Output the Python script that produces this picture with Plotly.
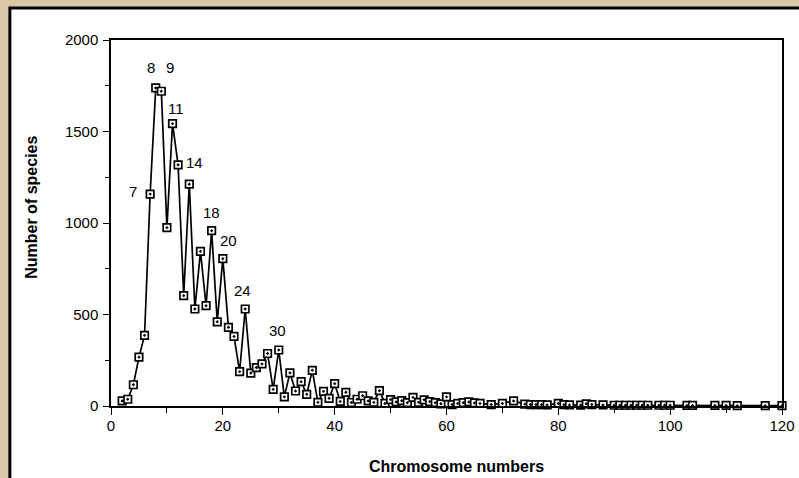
import plotly.graph_objects as go

chromosome_numbers = [2, 3, 4, 5, 6, 7, 8, 9, 10, 11, 12, 13, 14, 15, 16, 17, 18, 19, 20,
                      21, 22, 23, 24, 25, 26, 27, 28, 29, 30, 31, 32, 33, 34, 35, 36, 37, 38,
                      39, 40, 41, 42, 43, 44, 45, 46, 47, 48, 49, 50, 51, 52, 53, 54, 55, 56,
                      57, 58, 59, 60, 61, 62, 63, 64, 65, 66, 68, 70, 72, 74, 75, 76, 77, 78,
                      80, 81, 82, 84, 85, 86, 88, 90, 91, 92, 93, 94, 95, 96, 98, 99, 100,
                      103, 104, 108, 110, 112, 117, 120]
species_counts = [28, 37, 116, 267, 386, 1158, 1738, 1720, 975, 1543, 1318, 603, 1212, 530,
                  845, 548, 958, 460, 805, 430, 380, 188, 530, 180, 210, 230, 287, 91, 306,
                  50, 181, 82, 133, 64, 195, 20, 80, 42, 122, 25, 75, 19, 37, 56, 28, 20, 84,
                  14, 35, 22, 29, 18, 47, 20, 34, 24, 18, 12, 50, 8, 14, 18, 22, 17, 14, 8,
                  14, 28, 10, 8, 8, 7, 6, 14, 7, 6, 5, 12, 8, 6, 4, 4, 4, 4, 4, 4, 4, 4, 4,
                  4, 3, 3, 3, 3, 2, 2, 2]

peak_labels = ["7", "8", "9", "11", "14", "18", "20", "24", "30"]
peak_label_x = [4.0, 7.1, 10.5, 11.6, 14.9, 17.9, 21.1, 23.5, 29.7]
peak_label_y = [1170, 1852, 1852, 1625, 1328, 1060, 902, 632, 414]

x_title = "Chromosome numbers"
y_title = "Number of species"

FONT = "Liberation Sans, Arial, Helvetica, sans-serif"
BEIGE = "#d9c7a7"

fig = go.Figure()
fig.add_trace(go.Scatter(
    x=chromosome_numbers, y=species_counts, mode="lines+markers",
    line=dict(color="black", width=1.7),
    marker=dict(symbol="square-dot", size=7.5, color="white",
                line=dict(color="black", width=1.7)),
    cliponaxis=False, showlegend=False, hoverinfo="x+y",
))

for t, x, y in zip(peak_labels, peak_label_x, peak_label_y):
    fig.add_annotation(x=x, y=y, text=t, showarrow=False,
                       font=dict(family=FONT, size=15, color="black"))

# axis titles
fig.add_annotation(xref="paper", yref="paper", x=0.515, y=-0.165, text="<b>" + x_title + "</b>",
                   showarrow=False, xanchor="center", yanchor="middle",
                   font=dict(family=FONT, size=16, color="black"))
fig.add_annotation(xref="paper", yref="paper", x=-0.119, y=0.542, text="<b>" + y_title + "</b>",
                   showarrow=False, xanchor="center", yanchor="middle", textangle=-90,
                   font=dict(family=FONT, size=16, color="black"))

# white panel with black border over beige background
fig.add_shape(type="rect", xref="paper", yref="paper",
              x0=-0.1507, x1=1.2, y0=-0.3, y1=1.0877,
              fillcolor="white", line=dict(color="black", width=3), layer="below")

fig.update_layout(
    width=799, height=478,
    margin=dict(l=111, r=17, t=40, b=72, autoexpand=False),
    paper_bgcolor=BEIGE, plot_bgcolor="rgba(0,0,0,0)",
    font=dict(family=FONT, size=15, color="black"),
    xaxis=dict(range=[0, 120], dtick=20, tick0=0, ticks="outside", ticklen=7,
               tickwidth=1.3, tickcolor="black", showline=True, linecolor="black",
               linewidth=1.5, mirror=True, showgrid=False, zeroline=False,
               automargin=False, ticklabelstandoff=-2,
               minor=dict(dtick=10, ticks="outside", ticklen=5, tickcolor="black")),
    yaxis=dict(range=[0, 2000], dtick=500, tick0=0, ticks="outside", ticklen=6,
               tickwidth=1.3, tickcolor="black", showline=True, linecolor="black",
               linewidth=1.5, mirror=True, showgrid=False, zeroline=False,
               automargin=False, ticklabelstandoff=2,
               minor=dict(dtick=250, ticks="outside", ticklen=4, tickcolor="black")),
)

fig.write_html("out.html", config={"displayModeBar": False},
               post_script="document.body.style.margin='0';"
                           "document.body.style.background='" + BEIGE + "';")
